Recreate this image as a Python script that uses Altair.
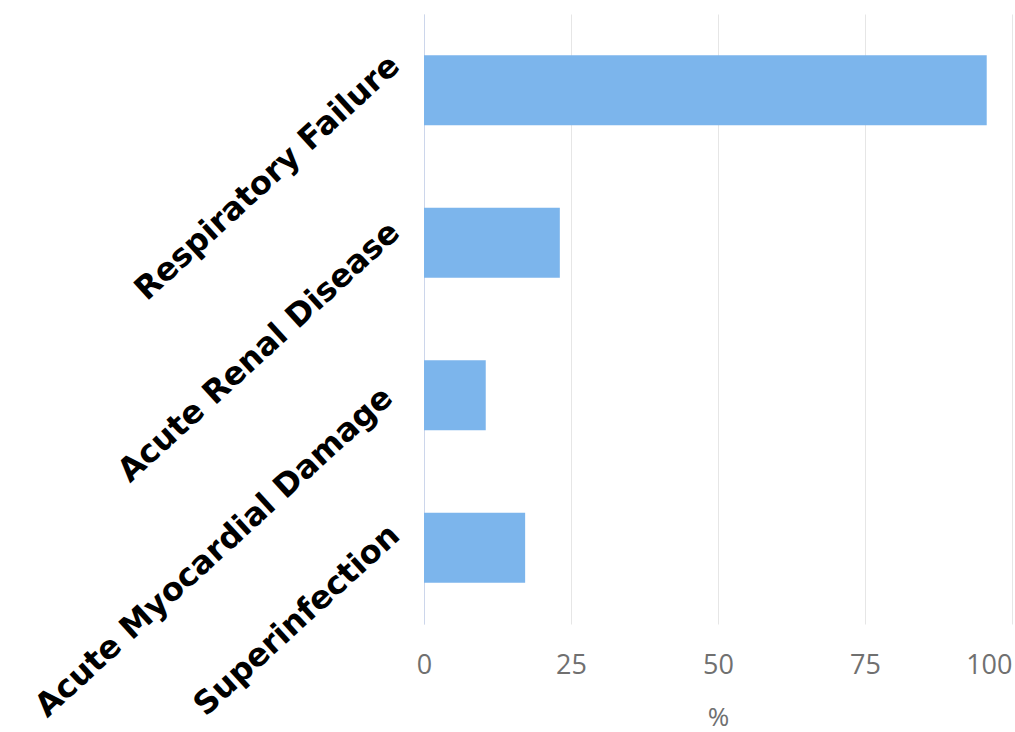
import altair as alt
import pandas as pd

# Complications reported, share of patients (%)
categories = [
    "Respiratory Failure",
    "Acute Renal Disease",
    "Acute Myocardial Damage",
    "Superinfection",
]
values = [95.7, 23.1, 10.5, 17.2]
x_ticks = [0, 25, 50, 75, 100]

df = pd.DataFrame({"complication": categories, "pct": values})

# small per-label nudges for the slanted category labels
label_offset = {
    "condition": [
        {"test": "datum.value == 'Respiratory Failure'", "value": -22},
        {"test": "datum.value == 'Acute Renal Disease'", "value": -8},
        {"test": "datum.value == 'Acute Myocardial Damage'", "value": 5},
    ],
    "value": -10,
}
label_padding = {
    "condition": {"test": "datum.value == 'Acute Myocardial Damage'", "value": 30},
    "value": 23,
}

chart = (
    alt.Chart(df)
    .mark_bar(color="#7cb5ec")
    .encode(
        y=alt.Y(
            "complication:N",
            sort=categories,
            title=None,
            scale=alt.Scale(paddingInner=0.54, paddingOuter=0.27),
            axis=alt.Axis(
                labelAngle=-42.5,
                labelAlign="right",
                labelBaseline="alphabetic",
                labelFont="DejaVu Sans",
                labelFontWeight="bold",
                labelFontSize=32,
                labelColor="#000000",
                labelPadding=label_padding,
                labelOffset=label_offset,
                labelLimit=0,
                ticks=False,
                grid=False,
                domainColor="#ccd6eb",
                domainWidth=1,
            ),
        ),
        x=alt.X(
            "pct:Q",
            title="%",
            scale=alt.Scale(domain=[0, 100], nice=False),
            axis=alt.Axis(
                values=x_ticks,
                grid=True,
                gridColor="#e6e6e6",
                gridWidth=1,
                domain=False,
                ticks=False,
                labelFont="Open Sans",
                labelFontSize=27,
                labelColor="#707070",
                labelPadding=28,
                labelFlush=False,
                labelAlign={
                    "condition": {"test": "datum.value == 100", "value": "right"},
                    "value": "center",
                },
                titleFont="Open Sans",
                titleFontSize=26,
                titleFontWeight="normal",
                titleColor="#707070",
                titleBaseline="top",
                titleY=80,
            ),
        ),
    )
    .properties(
        width=588,
        height=610,
        autosize=alt.AutoSizeParams(type="none"),
        padding={"left": 424, "top": 14, "right": 3, "bottom": 108},
        background="#ffffff",
    )
    .configure_view(stroke=None)
)

chart.save("out.html", embed_options={"renderer": "svg", "actions": False})
